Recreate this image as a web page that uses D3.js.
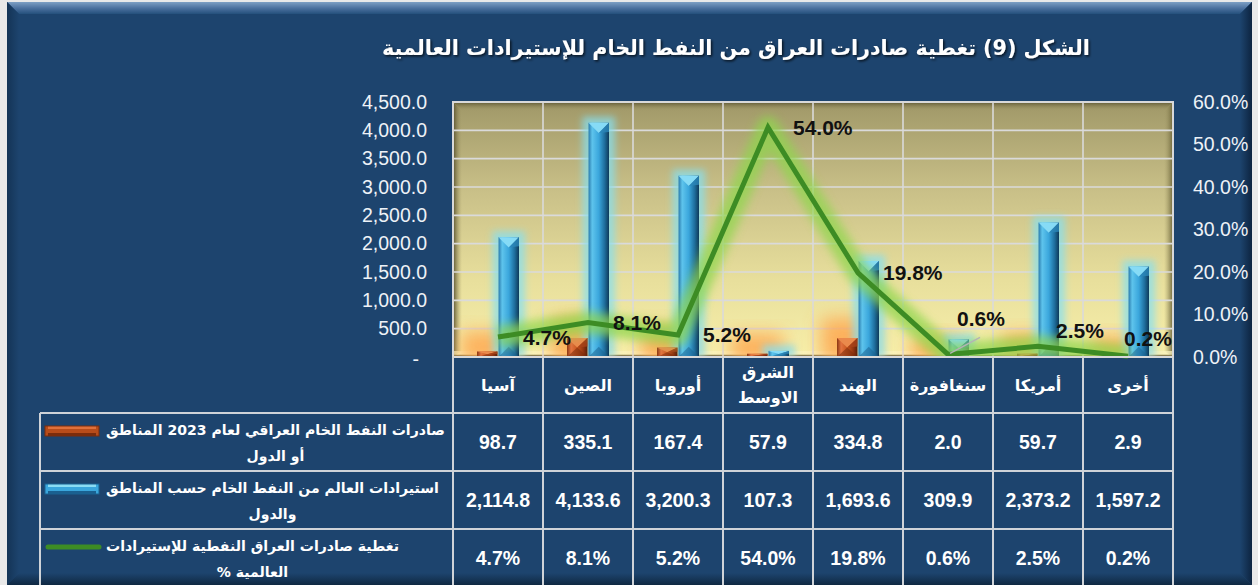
<!DOCTYPE html>
<html>
<head>
<meta charset="utf-8">
<script src="https://cdn.jsdelivr.net/npm/d3@7"></script>
<style>
  body { margin: 0; background: #ffffff; }
  svg { display: block; }
</style>
</head>
<body>
<svg id="chart" width="1258" height="585"></svg>
<script>
// ---- data ----
var categories = ["آسيا", "الصين", "أوروبا", "الشرق الاوسط", "الهند", "سنغافورة", "أمريكا", "أخرى"];
var iraqExports = [98.7, 335.1, 167.4, 57.9, 334.8, 2.0, 59.7, 2.9];
var worldImports = [2114.8, 4133.6, 3200.3, 107.3, 1693.6, 309.9, 2373.2, 1597.2];
var coverage = [4.7, 8.1, 5.2, 54.0, 19.8, 0.6, 2.5, 0.2];
var leftTicks = [0, 500, 1000, 1500, 2000, 2500, 3000, 3500, 4000, 4500];
var rightTicks = [0, 10, 20, 30, 40, 50, 60];
var titleText = "الشكل (9) تغطية صادرات العراق من النفط الخام للإستيرادات العالمية";
var seriesLabels = [
  ["صادرات النفط الخام العراقي لعام 2023  المناطق", "أو الدول"],
  ["استيرادات العالم من النفط الخام حسب المناطق", "والدول"],
  ["تغطية صادرات العراق النفطية للإستيرادات", "العالمية %"]
];

// label nudges for the crowded points at the right (dx, dy from the point)
var LABEL_NUDGE = { "سنغافورة": [9, -36], "أمريكا": [18, -16], "أخرى": [-4, -18] };

var PANEL = "#1d446e";
var GRID = "#dadada";
var TABLE_LINE = "#cfd3d8";
var FONT = "Arial, 'Liberation Sans', 'DejaVu Sans', sans-serif";
var AR_FONT = "'DejaVu Sans', Arial, sans-serif";

var svg = d3.select("#chart");
var defs = svg.append("defs");

var plot = { left: 453, right: 1173, top: 102, bottom: 357 };

var x = d3.scaleBand().domain(categories).range([plot.left, plot.right]);
var sub = d3.scaleBand().domain(["exp", "imp"])
  .range([x.bandwidth() / 2 - 21, x.bandwidth() / 2 + 21]).paddingInner(0.05);
var yL = d3.scaleLinear().domain([0, 4500]).range([plot.bottom, plot.top]);
var yR = d3.scaleLinear().domain([0, 60]).range([plot.bottom, plot.top]);
var rowY = d3.scaleBand().domain(d3.range(seriesLabels.length)).range([413, 587]);

// ---- gradients and filters ----
var addLinear = function(id, x2, y2, stops) {
  var g = defs.append("linearGradient").attr("id", id)
    .attr("x1", 0).attr("y1", 0).attr("x2", x2).attr("y2", y2);
  stops.forEach(function(s) {
    g.append("stop").attr("offset", s[0]).attr("stop-color", s[1])
      .attr("stop-opacity", s.length > 2 ? s[2] : 1);
  });
};
addLinear("plotBg", 0, 1, [[0, "#a09868"], [0.35, "#c9c088"], [0.7, "#e8df9c"], [1, "#f7efaa"]]);
addLinear("blueBar", 1, 0, [[0, "#2a7aac"], [0.18, "#5ec4ec"], [0.5, "#3aa6dc"], [0.78, "#1f6f9e"], [1, "#0e3a5a"]]);
addLinear("orangeBar", 1, 0, [[0, "#8a3612"], [0.2, "#e27440"], [0.5, "#c8561e"], [0.82, "#8c3210"], [1, "#5a1f08"]]);
addLinear("bevelL", 1, 0, [[0, "#554f2c"], [1, "#a59c6a", 0]]);
addLinear("bevelT", 0, 1, [[0, "#5c5632"], [1, "#a59c6a", 0]]);
addLinear("bevelR", 1, 0, [[0, "#a59c6a", 0], [1, "#6a6338"]]);
addLinear("panelTop", 0, 1, [[0, "#7d9fc4"], [0.5, "#4d72a0"], [1, "#24507c"]]);
addLinear("panelLeft", 1, 0, [[0, "#143456"], [1, PANEL]]);
addLinear("panelRight", 1, 0, [[0, PANEL], [1, "#0d2440"]]);
addLinear("panelBottom", 0, 1, [[0, PANEL], [1, "#0f2842"]]);

var blur = function(id, sd) {
  defs.append("filter").attr("id", id)
    .attr("x", "-50%").attr("y", "-50%").attr("width", "200%").attr("height", "200%")
    .append("feGaussianBlur").attr("stdDeviation", sd);
};
blur("blur3", 3.5);
blur("blur5", 5);
blur("blur9", 9);

var shadow = defs.append("filter").attr("id", "titleShadow")
  .attr("x", "-5%").attr("y", "-30%").attr("width", "110%").attr("height", "160%");
shadow.append("feDropShadow").attr("dx", 1.5).attr("dy", 1.5)
  .attr("stdDeviation", 1).attr("flood-color", "#000").attr("flood-opacity", 0.7);

defs.append("clipPath").attr("id", "plotClip").append("rect")
  .attr("x", plot.left).attr("y", plot.top)
  .attr("width", plot.right - plot.left).attr("height", plot.bottom - plot.top);

// ---- background panel with bevel ----
svg.append("rect").attr("width", 1258).attr("height", 585).attr("fill", "#e9e9e9");
var P = { l: 7, t: 2, r: 1252, b: 585, bev: 12 };
svg.append("rect").attr("x", P.l).attr("y", P.t)
  .attr("width", P.r - P.l).attr("height", P.b - P.t).attr("fill", PANEL);
var bev = P.bev;
svg.append("polygon").attr("fill", "url(#panelTop)")
  .attr("points", [[P.l, P.t], [P.r, P.t], [P.r - bev, P.t + bev], [P.l + bev, P.t + bev]].join(" "));
svg.append("polygon").attr("fill", "url(#panelLeft)")
  .attr("points", [[P.l, P.t], [P.l + bev, P.t + bev], [P.l + bev, P.b - bev], [P.l, P.b]].join(" "));
svg.append("polygon").attr("fill", "url(#panelRight)")
  .attr("points", [[P.r, P.t], [P.r, P.b], [P.r - bev, P.b - bev], [P.r - bev, P.t + bev]].join(" "));
svg.append("polygon").attr("fill", "url(#panelBottom)")
  .attr("points", [[P.l, P.b], [P.r, P.b], [P.r - bev, P.b - bev], [P.l + bev, P.b - bev]].join(" "));

// ---- title ----
var title = svg.append("text")
  .attr("x", 736).attr("y", 55)
  .attr("direction", "rtl").attr("text-anchor", "middle")
  .attr("font-family", AR_FONT).attr("font-weight", "bold").attr("font-size", 26)
  .attr("fill", "#ffffff").attr("filter", "url(#titleShadow)")
  .text(titleText);
var tw = title.node().getComputedTextLength();
title.attr("font-size", 26 * Math.min(1.1, 708 / tw));

// ---- plot background, bevel, grid ----
var pw = plot.right - plot.left, ph = plot.bottom - plot.top;
svg.append("rect").attr("x", plot.left).attr("y", plot.top)
  .attr("width", pw).attr("height", ph).attr("fill", "url(#plotBg)");
var b = 9;
svg.append("polygon").attr("fill", "url(#bevelT)")
  .attr("points", [[plot.left, plot.top], [plot.right, plot.top], [plot.right - b, plot.top + b], [plot.left + b, plot.top + b]].join(" "));
svg.append("polygon").attr("fill", "url(#bevelL)")
  .attr("points", [[plot.left, plot.top], [plot.left + b, plot.top + b], [plot.left + b, plot.bottom - 6], [plot.left, plot.bottom]].join(" "));
svg.append("polygon").attr("fill", "url(#bevelR)")
  .attr("points", [[plot.right, plot.top], [plot.right, plot.bottom], [plot.right - b, plot.bottom - 6], [plot.right - b, plot.top + b]].join(" "));
svg.append("rect").attr("x", plot.left).attr("y", plot.bottom - 6)
  .attr("width", pw).attr("height", 6).attr("fill", "#fbf3c0").attr("opacity", 0.7);
svg.append("line").attr("x1", plot.left).attr("x2", plot.right)
  .attr("y1", plot.bottom - 1.5).attr("y2", plot.bottom - 1.5)
  .attr("stroke", "#8a7f52").attr("stroke-width", 1.5);

var grid = svg.append("g");
grid.selectAll("line.h").data(leftTicks.filter(function(d) { return d > 0 && d < 4500; }))
  .enter().append("line").attr("class", "h")
  .attr("x1", plot.left).attr("x2", plot.right)
  .attr("y1", function(d) { return yL(d); }).attr("y2", function(d) { return yL(d); })
  .attr("stroke", GRID).attr("stroke-width", 1.6);
grid.selectAll("line.v").data(categories.slice(1))
  .enter().append("line").attr("class", "v")
  .attr("x1", function(d) { return x(d); }).attr("x2", function(d) { return x(d); })
  .attr("y1", plot.top).attr("y2", plot.bottom)
  .attr("stroke", GRID).attr("stroke-width", 1.6);

// ---- bars ----
var glowLayer = svg.append("g").attr("clip-path", "url(#plotClip)");
var barLayer = svg.append("g");

var drawBar = function(cx, w, v, style) {
  var top = yL(v), base = yL(0), h = base - top;
  if (style === "orange") {
    glowLayer.append("rect").attr("x", cx - 16).attr("y", top - 20)
      .attr("width", w + 32).attr("height", h + 26)
      .attr("fill", "#ffa24a").attr("opacity", 0.8).attr("filter", "url(#blur9)");
  } else {
    glowLayer.append("rect").attr("x", cx - 6).attr("y", top - 6)
      .attr("width", w + 12).attr("height", h + 6)
      .attr("fill", "#86dff0").attr("opacity", 0.75).attr("filter", "url(#blur3)");
  }
  if (h < 0.5) return;
  var g = barLayer.append("g");
  g.append("rect").attr("x", cx).attr("y", top).attr("width", w).attr("height", h)
    .attr("fill", style === "orange" ? "url(#orangeBar)" : "url(#blueBar)");
  var capH = Math.min(w / 2, h / 2);
  g.append("polygon")
    .attr("points", [[cx, top], [cx + w, top], [cx + w / 2, top + capH]].join(" "))
    .attr("fill", style === "orange" ? "#ea8a4c" : "#86dbf6");
  g.append("polygon")
    .attr("points", [[cx + w / 2, top + capH], [cx + w, top], [cx + w, top + capH * 0.9]].join(" "))
    .attr("fill", style === "orange" ? "#a8421a" : "#2a86b8").attr("opacity", 0.8);
  g.append("polygon")
    .attr("points", [[cx, base], [cx + w, base], [cx + w / 2, base - capH]].join(" "))
    .attr("fill", style === "orange" ? "#7a2c0c" : "#1b6290").attr("opacity", 0.55);
};

categories.forEach(function(c, i) {
  drawBar(x(c) + sub("exp"), sub.bandwidth(), iraqExports[i], "orange");
  drawBar(x(c) + sub("imp"), sub.bandwidth(), worldImports[i], "blue");
});

// ---- coverage line ----
var line = d3.line()
  .x(function(d, i) { return x(categories[i]) + x.bandwidth() / 2; })
  .y(function(d) { return yR(d); });
svg.append("path").datum(coverage).attr("d", line)
  .attr("fill", "none").attr("stroke", "#8fd64e").attr("stroke-width", 22)
  .attr("stroke-linejoin", "round").attr("opacity", 0.75).attr("filter", "url(#blur5)")
  .attr("clip-path", "url(#plotClip)");
svg.append("path").datum(coverage).attr("d", line)
  .attr("fill", "none").attr("stroke", "#3d8c24").attr("stroke-width", 5)
  .attr("stroke-linejoin", "miter");

// point labels
categories.forEach(function(c, i) {
  var px = x(c) + x.bandwidth() / 2, py = yR(coverage[i]);
  var n = LABEL_NUDGE[c] || [25, 0];
  var lx = px + n[0], ly = py + n[1];
  if (n[1] < -30) {
    svg.append("line").attr("x1", px + 2).attr("y1", py - 1)
      .attr("x2", lx + 23).attr("y2", ly + 19)
      .attr("stroke", "#b4b4b4").attr("stroke-width", 1.5);
  }
  svg.append("text").attr("x", lx).attr("y", ly).attr("dy", "0.36em")
    .attr("font-family", FONT).attr("font-weight", "bold").attr("font-size", 21)
    .attr("fill", "#111111")
    .text(coverage[i].toFixed(1) + "%");
});

// plot border
svg.append("rect").attr("x", plot.left).attr("y", plot.top)
  .attr("width", pw).attr("height", ph)
  .attr("fill", "none").attr("stroke", "#d9d9d9").attr("stroke-width", 2);

// ---- axes ----
var leftAxis = svg.append("g").attr("transform", "translate(" + plot.left + ",0)")
  .call(d3.axisLeft(yL).tickValues(leftTicks).tickSize(0).tickPadding(26)
    .tickFormat(function(d) { return d === 0 ? "-" : d3.format(",.1f")(d); }));
var rightAxis = svg.append("g").attr("transform", "translate(" + plot.right + ",0)")
  .call(d3.axisRight(yR).tickValues(rightTicks).tickSize(0).tickPadding(20)
    .tickFormat(function(d) { return d.toFixed(1) + "%"; }));
[leftAxis, rightAxis].forEach(function(a) {
  a.select(".domain").remove();
  a.selectAll("text").attr("font-family", FONT).attr("font-size", 19.5).attr("fill", "#eef2f7");
});
leftAxis.selectAll(".tick").filter(function(d) { return d === 0; })
  .select("text").attr("dx", -8).attr("dy", "0.45em");

// ---- data table ----
var table = svg.append("g");
var tableBottom = 585;
var colEdges = categories.map(function(c) { return x(c); }).concat([plot.right]);

// header labels
categories.forEach(function(c) {
  var words = c.split(" ");
  var cx = x(c) + x.bandwidth() / 2;
  words.forEach(function(w, k) {
    var off = (k - (words.length - 1) / 2) * 25;
    table.append("text").attr("x", cx).attr("y", 385 + off).attr("dy", "0.35em")
      .attr("direction", "rtl").attr("text-anchor", "middle")
      .attr("font-family", AR_FONT).attr("font-weight", "bold").attr("font-size", 16)
      .attr("fill", "#ffffff").text(w);
  });
});

// grid lines of table
table.selectAll("line.col").data(colEdges).enter().append("line")
  .attr("x1", function(d) { return d; }).attr("x2", function(d) { return d; })
  .attr("y1", plot.bottom).attr("y2", tableBottom)
  .attr("stroke", TABLE_LINE).attr("stroke-width", 2);
table.append("line").attr("x1", 40).attr("x2", 40)
  .attr("y1", rowY(0)).attr("y2", tableBottom)
  .attr("stroke", TABLE_LINE).attr("stroke-width", 2);
table.selectAll("line.row").data(d3.range(seriesLabels.length)).enter().append("line")
  .attr("x1", 40).attr("x2", plot.right)
  .attr("y1", function(d) { return rowY(d); }).attr("y2", function(d) { return rowY(d); })
  .attr("stroke", TABLE_LINE).attr("stroke-width", 2);

// values
var rowValues = [iraqExports, worldImports, coverage];
var rowFormat = [d3.format(",.1f"), d3.format(",.1f"), function(v) { return v.toFixed(1) + "%"; }];
rowValues.forEach(function(vals, r) {
  categories.forEach(function(c, i) {
    table.append("text")
      .attr("x", x(c) + x.bandwidth() / 2)
      .attr("y", rowY(r) + rowY.bandwidth() / 2 - 0.5).attr("dy", "0.36em")
      .attr("text-anchor", "middle")
      .attr("font-family", FONT).attr("font-weight", "bold").attr("font-size", 19.5)
      .attr("fill", "#ffffff").text(rowFormat[r](vals[i]));
  });
});

// legend cells: marker + two-line name
var markerX = 45, markerW = 54, textLeft = 106;
var legendSize = 15;
var probe = table.append("text").attr("font-family", AR_FONT).attr("font-weight", "bold")
  .attr("font-size", legendSize).attr("direction", "rtl").text(seriesLabels[0][0]);
legendSize = legendSize * Math.min(1.15, 339 / probe.node().getComputedTextLength());
probe.remove();

seriesLabels.forEach(function(lines, r) {
  var y0 = rowY(r);
  var l1 = table.append("text").attr("direction", "rtl").attr("text-anchor", "middle")
    .attr("font-family", AR_FONT).attr("font-weight", "bold").attr("font-size", legendSize)
    .attr("fill", "#ffffff").attr("y", y0 + 17).attr("dy", "0.35em").text(lines[0]);
  var w1 = l1.node().getComputedTextLength();
  var cx = textLeft + w1 / 2;
  l1.attr("x", cx);
  table.append("text").attr("direction", "rtl").attr("text-anchor", "middle")
    .attr("font-family", AR_FONT).attr("font-weight", "bold").attr("font-size", legendSize)
    .attr("fill", "#ffffff").attr("x", cx).attr("y", y0 + 43).attr("dy", "0.35em").text(lines[1]);

  var my = y0 + 18;
  if (r === 2) {
    table.append("line").attr("x1", markerX + 3).attr("x2", markerX + markerW)
      .attr("y1", my).attr("y2", my)
      .attr("stroke", "#3d8c24").attr("stroke-width", 5).attr("stroke-linecap", "round");
  } else {
    var base = r === 0 ? ["#e0703a", "#b84c1a", "#7a2c0c"] : ["#8adcf4", "#3aa6dc", "#1a6090"];
    table.append("rect").attr("x", markerX).attr("y", my - 5)
      .attr("width", markerW).attr("height", 10).attr("fill", base[1]);
    table.append("rect").attr("x", markerX + 3).attr("y", my - 5)
      .attr("width", markerW - 6).attr("height", 3).attr("fill", base[0]);
    table.append("rect").attr("x", markerX + 3).attr("y", my + 2)
      .attr("width", markerW - 6).attr("height", 3).attr("fill", base[2]);
    table.append("rect").attr("x", markerX).attr("y", my - 5)
      .attr("width", markerW).attr("height", 10)
      .attr("fill", "none").attr("stroke", base[2]).attr("stroke-width", 1);
  }
});
</script>
</body>
</html>
